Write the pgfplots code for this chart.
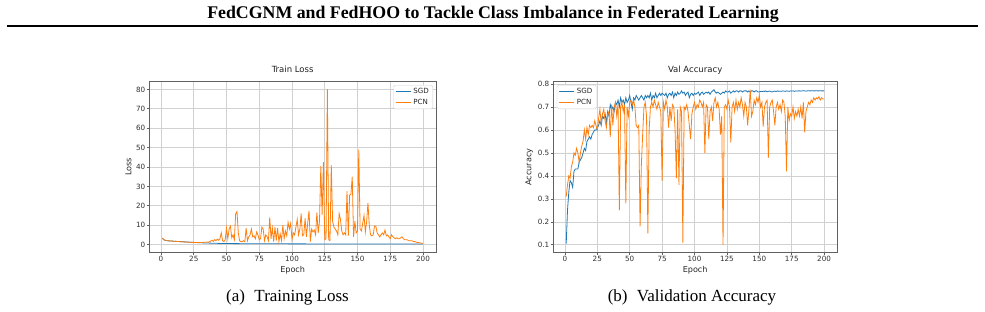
\documentclass[border=0pt]{standalone}
\usepackage{fontspec}
\setmainfont{Liberation Serif}
\newfontfamily\dejavu{DejaVu Sans}
\usepackage{pgfplots}
\usepackage{pgfplotstable}
\pgfplotsset{compat=1.18}
\definecolor{cA}{HTML}{1F77B4}
\definecolor{cB}{HTML}{FF7F0E}

\pgfplotstableread{
e sgd pcn
1 3.30 3.40
2 2.50 2.60
3 2.20 2.30
4 2.05 2.10
5 1.95 2.00
6 1.90 1.90
7 1.85 1.85
8 1.80 1.80
9 1.75 1.75
10 1.70 1.70
11 1.66 1.65
12 1.62 1.60
13 1.58 1.55
14 1.54 1.50
15 1.50 1.45
16 1.46 1.40
17 1.42 1.35
18 1.38 1.30
19 1.34 1.28
20 1.30 1.25
21 1.26 1.20
22 1.22 1.18
23 1.18 1.15
24 1.14 1.12
25 1.10 1.10
26 1.06 1.08
27 1.02 1.05
28 0.99 1.05
29 0.96 1.02
30 0.93 1.05
31 0.90 1.10
32 0.87 1.10
33 0.84 1.15
34 0.81 1.20
35 0.78 1.30
36 0.76 1.20
37 0.74 1.50
38 0.72 1.80
39 0.70 2.20
40 0.68 1.60
41 0.66 2.50
42 0.64 2.00
43 0.62 2.80
44 0.60 2.20
45 0.58 3.00
46 0.56 6.00
47 0.55 2.00
48 0.54 1.50
49 0.53 2.50
50 0.52 8.50
51 0.51 3.00
52 0.50 8.00
53 0.50 9.50
54 0.49 3.50
55 0.49 5.00
56 0.48 2.50
57 0.48 16.00
58 0.47 17.00
59 0.47 6.00
60 0.46 2.00
61 0.46 1.50
62 0.45 1.50
63 0.45 2.00
64 0.44 1.50
65 0.44 8.50
66 0.44 2.00
67 0.43 4.00
68 0.43 5.00
69 0.43 8.00
70 0.42 4.00
71 0.42 4.50
72 0.42 3.00
73 0.41 6.50
74 0.41 5.00
75 0.41 2.50
76 0.40 3.00
77 0.40 9.00
78 0.40 8.00
79 0.40 2.00
80 0.39 5.00
81 0.39 4.00
82 0.39 2.00
83 0.39 14.00
84 0.38 3.00
85 0.38 8.50
86 0.38 1.50
87 0.38 9.00
88 0.37 2.00
89 0.37 8.50
90 0.37 1.50
91 0.37 5.50
92 0.37 2.00
93 0.36 10.00
94 0.36 3.00
95 0.36 7.00
96 0.36 4.50
97 0.36 11.50
98 0.35 8.00
99 0.35 11.00
100 0.35 2.50
101 0.35 6.00
102 0.35 5.00
103 0.35 9.00
104 0.34 13.00
105 0.34 5.00
106 0.34 8.00
107 0.34 16.00
108 0.34 4.50
109 0.34 5.00
110 0.34 13.50
111 0.33 4.00
112 0.33 11.00
113 0.33 17.50
114 0.33 1.50
115 0.33 8.00
116 0.33 6.50
117 0.33 7.50
118 0.33 5.00
119 0.32 16.50
120 0.32 6.00
121 0.32 12.00
122 0.32 40.50
123 0.32 15.50
124 0.32 42.50
125 0.32 2.50
126 0.32 3.00
127 0.31 80.00
128 0.31 2.50
129 0.31 2.00
130 0.31 41.00
131 0.31 12.00
132 0.31 9.00
133 0.31 8.00
134 0.31 7.00
135 0.31 5.00
136 0.30 16.00
137 0.30 13.00
138 0.30 7.00
139 0.30 5.00
140 0.30 6.00
141 0.30 5.00
142 0.30 27.50
143 0.30 4.50
144 0.30 25.50
145 0.30 26.00
146 0.29 35.00
147 0.29 4.00
148 0.29 12.00
149 0.29 6.00
150 0.29 7.00
151 0.29 49.00
152 0.29 8.00
153 0.29 7.00
154 0.29 11.00
155 0.29 15.00
156 0.28 6.50
157 0.28 12.00
158 0.28 21.50
159 0.28 10.00
160 0.28 5.00
161 0.28 4.50
162 0.28 5.00
163 0.28 9.50
164 0.28 9.50
165 0.28 6.00
166 0.28 5.00
167 0.28 4.00
168 0.27 5.00
169 0.27 6.00
170 0.27 5.00
171 0.27 7.50
172 0.27 4.50
173 0.27 5.00
174 0.27 4.00
175 0.27 3.00
176 0.27 5.00
177 0.27 4.00
178 0.27 3.50
179 0.27 3.00
180 0.27 3.50
181 0.27 3.00
182 0.26 3.00
183 0.26 3.50
184 0.26 4.00
185 0.26 3.00
186 0.26 2.50
187 0.26 2.50
188 0.26 2.50
189 0.26 2.00
190 0.26 2.00
191 0.26 2.00
192 0.26 1.80
193 0.26 1.50
194 0.26 1.50
195 0.26 1.20
196 0.26 1.00
197 0.26 1.00
198 0.26 0.80
199 0.26 0.70
200 0.26 0.60
}\lossdata

\pgfplotstableread{
e sgd pcn
1 0.105 0.31
2 0.25 0.36
3 0.33 0.40
4 0.38 0.39
5 0.37 0.44
6 0.35 0.46
7 0.42 0.50
8 0.43 0.49
9 0.43 0.52
10 0.43 0.50
11 0.46 0.46
12 0.47 0.50
13 0.48 0.53
14 0.50 0.55
15 0.52 0.60
16 0.51 0.56
17 0.55 0.61
18 0.56 0.58
19 0.57 0.62
20 0.56 0.61
21 0.58 0.62
22 0.59 0.61
23 0.60 0.64
24 0.60 0.62
25 0.61 0.60
26 0.62 0.65
27 0.64 0.69
28 0.62 0.63
29 0.66 0.67
30 0.65 0.69
31 0.67 0.64
32 0.63 0.61
33 0.68 0.67
34 0.66 0.68
35 0.71 0.57
36 0.69 0.71
37 0.70 0.62
38 0.68 0.70
39 0.72 0.72
40 0.71 0.66
41 0.73 0.71
42 0.70 0.25
43 0.74 0.70
44 0.72 0.72
45 0.73 0.68
46 0.71 0.71
47 0.74 0.28
48 0.72 0.70
49 0.73 0.66
50 0.75 0.72
51 0.72 0.73
52 0.69 0.71
53 0.74 0.73
54 0.73 0.70
55 0.75 0.62
56 0.74 0.61
57 0.73 0.62
58 0.74 0.18
59 0.75 0.45
60 0.74 0.58
61 0.73 0.70
62 0.75 0.72
63 0.74 0.66
64 0.75 0.15
65 0.74 0.60
66 0.76 0.70
67 0.73 0.72
68 0.75 0.70
69 0.74 0.73
70 0.76 0.71
71 0.74 0.69
72 0.75 0.72
73 0.76 0.70
74 0.75 0.68
75 0.76 0.38
76 0.755 0.72
77 0.75 0.69
78 0.76 0.73
79 0.74 0.70
80 0.755 0.61
81 0.76 0.70
82 0.75 0.64
83 0.765 0.71
84 0.74 0.70
85 0.76 0.60
86 0.75 0.39
87 0.765 0.69
88 0.755 0.36
89 0.76 0.70
90 0.77 0.68
91 0.76 0.11
92 0.765 0.70
93 0.75 0.69
94 0.76 0.71
95 0.765 0.68
96 0.74 0.62
97 0.755 0.56
98 0.76 0.67
99 0.75 0.70
100 0.76 0.72
101 0.755 0.69
102 0.76 0.71
103 0.765 0.70
104 0.75 0.73
105 0.76 0.72
106 0.765 0.70
107 0.755 0.72
108 0.76 0.50
109 0.765 0.71
110 0.76 0.70
111 0.765 0.56
112 0.755 0.68
113 0.765 0.70
114 0.77 0.64
115 0.775 0.72
116 0.765 0.74
117 0.76 0.70
118 0.765 0.72
119 0.76 0.69
120 0.755 0.58
121 0.76 0.66
122 0.765 0.10
123 0.76 0.70
124 0.77 0.71
125 0.765 0.69
126 0.765 0.73
127 0.77 0.70
128 0.76 0.545
129 0.765 0.70
130 0.77 0.72
131 0.765 0.68
132 0.77 0.73
133 0.77 0.69
134 0.765 0.72
135 0.77 0.70
136 0.77 0.74
137 0.765 0.71
138 0.77 0.66
139 0.77 0.72
140 0.77 0.70
141 0.765 0.62
142 0.77 0.69
143 0.765 0.775
144 0.77 0.66
145 0.77 0.68
146 0.765 0.73
147 0.77 0.71
148 0.77 0.74
149 0.765 0.72
150 0.765 0.75
151 0.768 0.70
152 0.766 0.72
153 0.769 0.615
154 0.767 0.70
155 0.77 0.72
156 0.766 0.73
157 0.768 0.48
158 0.769 0.70
159 0.767 0.72
160 0.765 0.73
161 0.768 0.68
162 0.769 0.62
163 0.767 0.70
164 0.77 0.72
165 0.768 0.69
166 0.769 0.71
167 0.768 0.68
168 0.77 0.73
169 0.769 0.72
170 0.768 0.66
171 0.77 0.42
172 0.769 0.70
173 0.768 0.64
174 0.77 0.67
175 0.769 0.66
176 0.77 0.70
177 0.768 0.65
178 0.77 0.68
179 0.769 0.66
180 0.77 0.69
181 0.77 0.66
182 0.769 0.70
183 0.77 0.65
184 0.771 0.72
185 0.77 0.59
186 0.769 0.68
187 0.77 0.70
188 0.771 0.72
189 0.77 0.71
190 0.77 0.73
191 0.771 0.72
192 0.77 0.74
193 0.77 0.73
194 0.771 0.74
195 0.77 0.735
196 0.77 0.745
197 0.771 0.73
198 0.77 0.74
199 0.77 0.735
200 0.77 0.735
}\accdata

\pgfplotsset{
  mplax/.style={
    scale only axis,
    height=170.6pt,
    xmin=-8.95, xmax=209.95,
    xtick={0,25,...,200},
    grid=major,
    grid style={black!18, line width=0.7pt},
    axis line style={black!62, line width=0.7pt},
    tick align=outside,
    major tick length=2.8pt,
    tick style={black!62, line width=0.7pt},
    xtick pos=left, ytick pos=left,
    /pgf/number format/assume math mode=true,
    ticklabel style={font=\dejavu\fontsize{7.2}{8.5}\selectfont, text=black!82, inner sep=1.1pt},
    title style={font=\dejavu\fontsize{8.5}{10}\selectfont, text=black!88, at={(axis description cs:0.5,1)}, anchor=base, yshift=3.4pt},
    xlabel style={font=\dejavu\fontsize{8.1}{9.5}\selectfont, text=black!85, at={(axis description cs:0.5,0)}, anchor=base, yshift=-20.5pt},
    ylabel style={font=\dejavu\fontsize{8.1}{9.5}\selectfont, text=black!85},
    legend cell align=left,
    legend image code/.code={\draw[#1, line width=0.8pt] (0pt,0pt) -- (15pt,0pt);},
    legend style={font=\dejavu\fontsize{7.1}{8.3}\selectfont, text=black!85, draw=black!18, rounded corners=1.5pt,
      inner xsep=2pt, inner ysep=1pt, row sep=0.2pt, fill=white},
    every axis plot/.append style={line width=0.8pt},
  }
}

\begin{document}
\begin{tikzpicture}[x=1pt,y=1pt]
\path[use as bounding box] (0,0) rectangle (985,311);
\node[font=\bfseries\fontsize{17.8}{21}\selectfont, anchor=base] at (493,292) {FedCGNM and FedHOO to Tackle Class Imbalance in Federated Learning};
\draw[line width=2pt] (7,285) -- (978,285);

\begin{axis}[mplax, at={(149.3pt,58.7pt)}, anchor=south west, width=286.7pt,
  ymin=-4, ymax=84, ytick={0,10,...,80},
  title={Train Loss}, xlabel={Epoch}, ylabel={Loss},
  legend style={at={(axis description cs:1,1)}, anchor=north east, xshift=-3pt, yshift=-3.3pt}]
\addplot[cA, no markers] table[x=e, y=sgd] {\lossdata};
\addlegendentry{SGD}
\addplot[cB, no markers] table[x=e, y=pcn] {\lossdata};
\addlegendentry{PCN}
\end{axis}

\begin{axis}[mplax, at={(553.3pt,58.7pt)}, anchor=south west, width=283.7pt,
  ymin=0.0675, ymax=0.81, ytick={0.1,0.2,...,0.8},
  yticklabel style={/pgf/number format/fixed, /pgf/number format/precision=1},
  title={Val Accuracy}, xlabel={Epoch}, ylabel={Accuracy},
  legend style={at={(axis description cs:0,1)}, anchor=north west, xshift=3.5pt, yshift=-3.3pt}]
\addplot[cA, no markers] table[x=e, y=sgd] {\accdata};
\addlegendentry{SGD}
\addplot[cB, no markers] table[x=e, y=pcn] {\accdata};
\addlegendentry{PCN}
\end{axis}

\node[font=\fontsize{17}{20}\selectfont, anchor=base] at (287.5,10) {(a)\hspace{0.55em}Training Loss};
\node[font=\fontsize{17}{20}\selectfont, anchor=base] at (692,10) {(b)\hspace{0.55em}Validation Accuracy};
\end{tikzpicture}
\end{document}
